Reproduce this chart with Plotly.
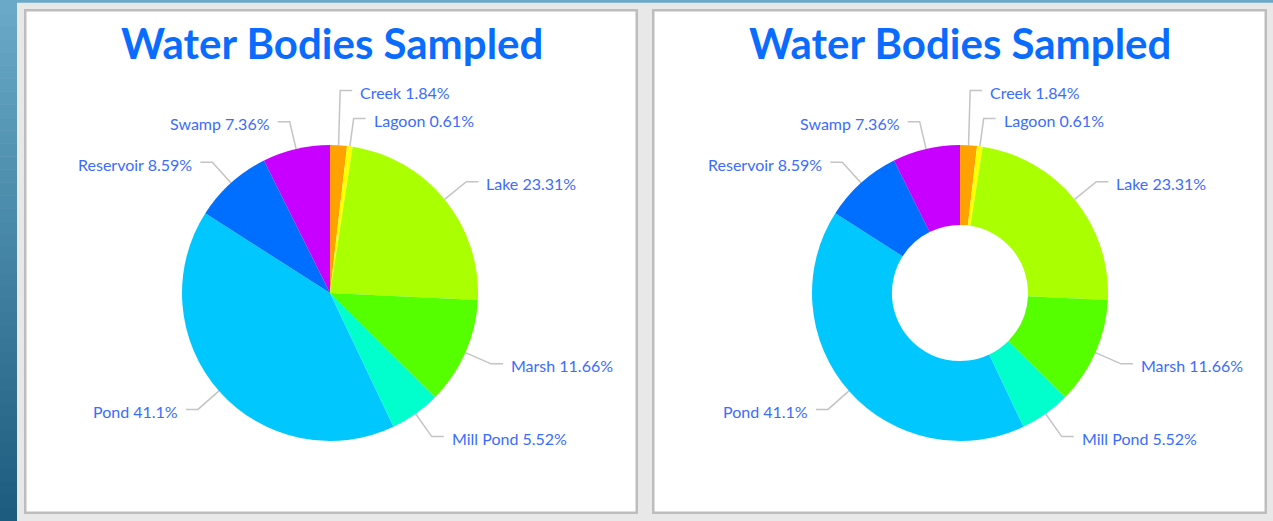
import math
import plotly.graph_objects as go

# ---- data ----
categories = ["Creek", "Lagoon", "Lake", "Marsh", "Mill Pond", "Pond", "Reservoir", "Swamp"]
percent = [1.84, 0.61, 23.31, 11.66, 5.52, 41.1, 8.59, 7.36]
slice_colors = ["#ffa200", "#ffff00", "#aaff00", "#55ff00", "#00ffcc", "#00c8ff", "#006eff", "#c800ff"]
title_text = "Water Bodies Sampled"
hole_sizes = [0, 0.46]

# ---- layout constants (pixels) ----
W, H = 1273, 521
panels = [(24, 9, 638, 514), (652, 9, 1267, 514)]
centers = [(330, 293), (960, 293)]
R = 148
TICK_OUT = 28
TICK_H = 12
GAP = 6
MIN_SEP = 28
LABEL_COLOR = "#3b6cff"
TITLE_COLOR = "#0a6cff"
FONT = "Lato"

fig = go.Figure()
shapes = []
annotations = []


def lerp_color(c1, c2, t):
    a = [int(c1[i:i + 2], 16) for i in (1, 3, 5)]
    b = [int(c2[i:i + 2], 16) for i in (1, 3, 5)]
    return "#%02x%02x%02x" % tuple(round(a[k] + (b[k] - a[k]) * t) for k in range(3))


# background gradient strip on the left and thin top strip
N = 40
for i in range(N):
    y0 = H * i / N
    y1 = H * (i + 1) / N + 0.5
    shapes.append(dict(type="rect", xref="x", yref="y", x0=0, x1=17, y0=y0, y1=y1,
                       fillcolor=lerp_color("#6aaac8", "#1d5c7e", i / (N - 1)),
                       line=dict(width=0), layer="below"))
shapes.append(dict(type="rect", xref="x", yref="y", x0=17, x1=W, y0=0, y1=2.7,
                   fillcolor="#6aaac8", line=dict(width=0), layer="below"))

# panels
for (x0, y0, x1, y1) in panels:
    shapes.append(dict(type="rect", xref="x", yref="y", x0=x0 + 1.25, x1=x1 - 1.25,
                       y0=y0 + 1.25, y1=y1 - 1.25, fillcolor="white",
                       line=dict(color="#bdbdbd", width=2.5), layer="below"))

total = sum(percent)
for p_idx, ((cx, cy), hole) in enumerate(zip(centers, hole_sizes)):
    fig.add_trace(go.Pie(
        labels=categories, values=percent, sort=False, direction="clockwise",
        rotation=0, hole=hole, textinfo="none", showlegend=False,
        marker=dict(colors=slice_colors, line=dict(width=0)),
        domain=dict(x=[(cx - R) / W, (cx + R) / W], y=[1 - (cy + R) / H, 1 - (cy - R) / H]),
        hoverinfo="label+percent",
    ))

    # label layout computed from the data
    cum = 0.0
    items = []
    for name, v in zip(categories, percent):
        mid = (cum + v / 2) / total * 2 * math.pi
        cum += v
        s, c = math.sin(mid), math.cos(mid)
        side = 1 if s >= 0 else -1
        items.append(dict(name=name, v=v, s=s, c=c, side=side,
                          ex=cx + (R + TICK_OUT) * s, ly=cy - (R + TICK_OUT) * c))
    # resolve overlaps: push upward from the bottom
    for side in (1, -1):
        grp = sorted([it for it in items if it["side"] == side], key=lambda d: -d["ly"])
        for k in range(1, len(grp)):
            if grp[k]["ly"] > grp[k - 1]["ly"] - MIN_SEP:
                grp[k]["ly"] = grp[k - 1]["ly"] - MIN_SEP

    for it in items:
        px, py = cx + R * it["s"], cy - R * it["c"]
        hx = it["ex"] + it["side"] * TICK_H
        fig.add_trace(go.Scatter(
            x=[px, it["ex"], hx], y=[py, it["ly"], it["ly"]], mode="lines",
            line=dict(color="#c4c4c4", width=1.5), hoverinfo="skip", showlegend=False,
            xaxis="x", yaxis="y"))
        pct = ("%g" % it["v"])
        annotations.append(dict(
            x=hx + it["side"] * GAP, y=it["ly"] + 2, xref="x", yref="y",
            text=f"{it['name']} {pct}%", showarrow=False,
            xanchor="left" if it["side"] > 0 else "right", yanchor="middle",
            font=dict(family=FONT, size=16, color=LABEL_COLOR)))

    px0, _, px1, _ = panels[p_idx]
    annotations.append(dict(
        x=(px0 + px1) / 2 + 0.5, y=43, xref="x", yref="y", text=title_text, showarrow=False,
        xanchor="center", yanchor="middle",
        font=dict(family=FONT, size=42, color=TITLE_COLOR, weight=700)))

fig.update_layout(
    width=W, height=H, margin=dict(l=0, r=0, t=0, b=0),
    paper_bgcolor="#e8e8e8", plot_bgcolor="rgba(0,0,0,0)",
    xaxis=dict(range=[0, W], visible=False, fixedrange=True, domain=[0, 1]),
    yaxis=dict(range=[H, 0], visible=False, fixedrange=True, domain=[0, 1]),
    shapes=shapes, annotations=annotations, showlegend=False,
)

fig.write_html("out.html", config=dict(displayModeBar=False),
               post_script="document.body.style.margin='0px';document.body.style.overflow='hidden';")
